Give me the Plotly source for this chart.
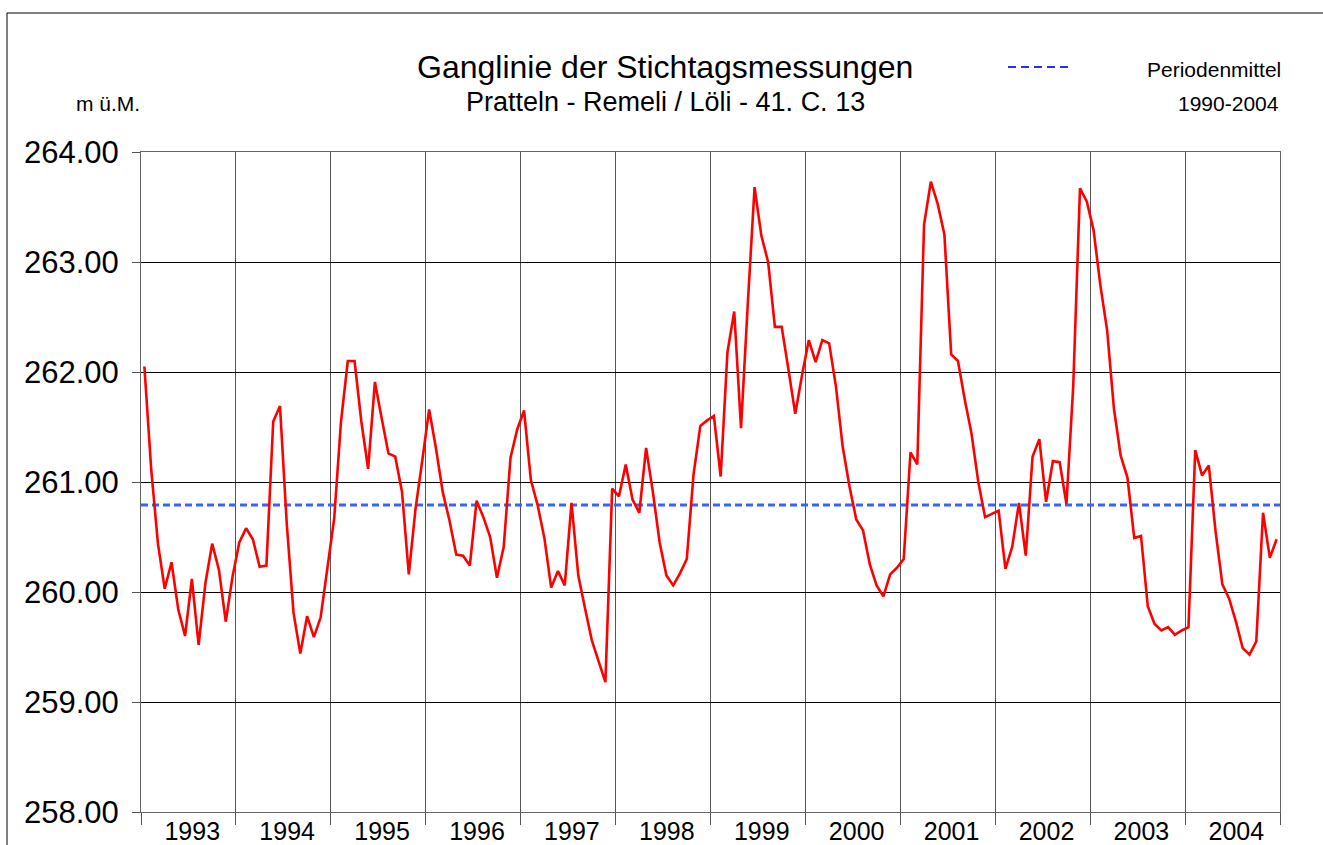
import plotly.graph_objects as go

# ---------------- data ----------------
years = [1993, 1994, 1995, 1996, 1997, 1998, 1999, 2000, 2001, 2002, 2003, 2004]
samples_per_year = 14  # Stichtagsmessungen per year

w1993 = [262.05, 261.12, 260.44, 260.03, 260.27, 259.84, 259.60, 260.12, 259.52, 260.08, 260.44, 260.20, 259.73, 260.14]
w1994 = [260.45, 260.58, 260.48, 260.23, 260.24, 261.55, 261.69, 260.62, 259.81, 259.44, 259.78, 259.59, 259.77, 260.23]
w1995 = [260.67, 261.55, 262.10, 262.10, 261.55, 261.12, 261.91, 261.58, 261.26, 261.23, 260.91, 260.16, 260.76, 261.20]
w1996 = [261.66, 261.31, 260.91, 260.65, 260.34, 260.33, 260.24, 260.83, 260.68, 260.50, 260.13, 260.41, 261.22, 261.48]
w1997 = [261.65, 261.02, 260.79, 260.49, 260.04, 260.19, 260.06, 260.81, 260.15, 259.85, 259.56, 259.37, 259.18, 260.94]
w1998 = [260.87, 261.16, 260.84, 260.72, 261.31, 260.91, 260.45, 260.15, 260.06, 260.17, 260.30, 261.07, 261.51, 261.56]
w1999 = [261.60, 261.05, 262.18, 262.55, 261.49, 262.62, 263.68, 263.24, 263.00, 262.41, 262.41, 262.02, 261.62, 261.97]
w2000 = [262.29, 262.09, 262.29, 262.26, 261.87, 261.32, 260.96, 260.66, 260.56, 260.25, 260.06, 259.96, 260.16, 260.22]
w2001 = [260.30, 261.27, 261.16, 263.34, 263.73, 263.53, 263.25, 262.16, 262.10, 261.75, 261.44, 261.00, 260.68, 260.71]
w2002 = [260.74, 260.21, 260.41, 260.81, 260.33, 261.23, 261.39, 260.82, 261.19, 261.18, 260.80, 261.87, 263.67, 263.55]
w2003 = [263.29, 262.79, 262.38, 261.67, 261.24, 261.04, 260.49, 260.51, 259.87, 259.71, 259.65, 259.68, 259.61, 259.65]
w2004 = [259.68, 261.29, 261.06, 261.15, 260.55, 260.07, 259.94, 259.73, 259.49, 259.43, 259.55, 260.72, 260.31, 260.48]

periodenmittel = 260.79
y_ticks = [258, 259, 260, 261, 262, 263, 264]

title_text = "Ganglinie der Stichtagsmessungen"
subtitle_text = "Pratteln - Remeli / Löli - 41. C. 13"
unit_text = "m ü.M."
legend_text = "Periodenmittel"
period_text = "1990-2004"

# ---------------- build series ----------------
yearly = [w1993, w1994, w1995, w1996, w1997, w1998, w1999, w2000, w2001, w2002, w2003, w2004]
t, level = [], []
for yr, vals in zip(years, yearly):
    for k, v in enumerate(vals):
        t.append(yr + (k + 0.5) / samples_per_year)
        level.append(v)

W, H = 1323, 845
L, R, T, B = 141, 1280, 152, 812
FONT = "Liberation Sans, Arial, sans-serif"
label_shift = 0.04  # year labels sit slightly right of the bin centre


def px(x):
    return (x - L) / (R - L)


def py(y):
    return (B - y) / (B - T)


fig = go.Figure()
fig.add_trace(go.Scatter(
    x=[years[0], years[-1] + 1], y=[periodenmittel, periodenmittel],
    mode="lines", line=dict(color="#3366FF", width=3, dash="7px,4px"),
    hoverinfo="skip", showlegend=False))
fig.add_trace(go.Scatter(
    x=t, y=level, mode="lines", line=dict(color="#FF0000", width=2.6),
    showlegend=False))

fig.update_layout(
    width=W, height=H,
    margin=dict(l=L, r=W - R, t=T, b=H - B, pad=0, autoexpand=False),
    paper_bgcolor="white", plot_bgcolor="white",
    font=dict(family=FONT, color="black"),
    showlegend=False,
)
fig.update_yaxes(
    range=[y_ticks[0], y_ticks[-1]], tickvals=y_ticks, tickformat=".2f",
    showgrid=True, gridcolor="black", gridwidth=1,
    ticks="outside", ticklen=8, tickcolor="#555", tickwidth=1,
    ticklabelstandoff=7, automargin=False,
    showline=True, linecolor="#666", linewidth=1, mirror=True,
    zeroline=False, tickfont=dict(size=31, family=FONT, color="black"),
)
fig.update_xaxes(
    range=[years[0], years[-1] + 1],
    tickvals=[y + 0.5 + label_shift for y in years], ticktext=[str(y) for y in years],
    ticks="", showgrid=False, ticklabelstandoff=-3, automargin=False,
    minor=dict(tick0=years[0], dtick=1, showgrid=True, gridcolor="#555",
               gridwidth=1, ticks="outside", ticklen=12, tickcolor="#555"),
    showline=True, linecolor="#666", linewidth=1, mirror=True,
    zeroline=False, tickfont=dict(size=25, family=FONT, color="black"),
)

# frame around whole chart
fig.add_shape(type="rect", xref="paper", yref="paper",
              x0=px(7), x1=px(1330), y0=py(852), y1=py(13),
              line=dict(color="black", width=1), fillcolor="rgba(0,0,0,0)")
# legend sample
fig.add_shape(type="line", xref="paper", yref="paper",
              x0=px(1008), x1=px(1072), y0=py(67), y1=py(67),
              line=dict(color="#2233EE", width=2, dash="8px,5px"))

ann = [
    dict(text=title_text, x=px(665), y=py(67), size=32, xanchor="center"),
    dict(text=subtitle_text, x=px(665), y=py(102), size=27, xanchor="center"),
    dict(text=unit_text, x=px(142), y=py(103), size=21, xanchor="right"),
    dict(text=legend_text, x=px(1283), y=py(70), size=21, xanchor="right"),
    dict(text=period_text, x=px(1281), y=py(103), size=21, xanchor="right"),
]
for a in ann:
    fig.add_annotation(text=a["text"], xref="paper", yref="paper",
                       x=a["x"], y=a["y"], xanchor=a["xanchor"], yanchor="middle",
                       showarrow=False,
                       font=dict(size=a["size"], family=FONT, color="black"))

fig.write_html("out.html", config={"displayModeBar": False},
               post_script="document.body.style.margin='0';")
